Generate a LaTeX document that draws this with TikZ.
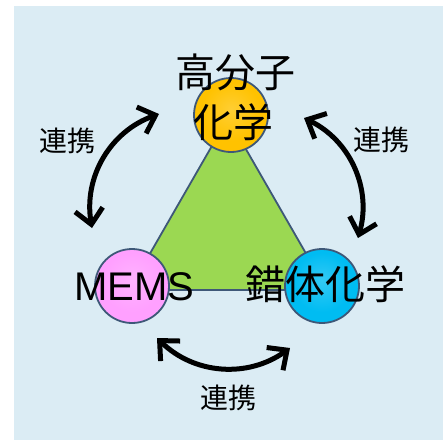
\documentclass[tikz,border=0pt]{standalone}
\usepackage{fontspec}
\setmainfont{Liberation Sans}
\newfontfamily\cjk{Noto Sans CJK JP}
\usetikzlibrary{arrows.meta}
\definecolor{bgc}{RGB}{219,236,244}
\definecolor{trifill}{RGB}{155,216,82}
\definecolor{edgec}{RGB}{62,88,120}
\definecolor{orc}{RGB}{255,194,0}
\definecolor{pkc}{RGB}{255,160,255}
\definecolor{blc}{RGB}{0,188,242}
\pgfdeclareradialshading{bevorange}{\pgfpoint{0bp}{4bp}}{color(0bp)=(orc!80!white); color(20bp)=(orc); color(40bp)=(orc); color(50bp)=(orc!72!black)}
\pgfdeclareradialshading{bevpink}{\pgfpoint{0bp}{4bp}}{color(0bp)=(pkc!80!white); color(20bp)=(pkc); color(40bp)=(pkc); color(50bp)=(pkc!72!black)}
\pgfdeclareradialshading{bevblue}{\pgfpoint{0bp}{4bp}}{color(0bp)=(blc!80!white); color(20bp)=(blc); color(40bp)=(blc); color(50bp)=(blc!72!black)}
\tikzset{
  tri/.style={fill=trifill, draw=edgec, line width=1.8pt, line join=round},
  ball/.style={circle, minimum size=74pt, inner sep=0pt, draw=edgec, line width=1.8pt},
  bigcjk/.style={font=\cjk\fontsize{40}{48}\selectfont, inner sep=0pt, anchor=base},
  biglat/.style={font=\fontsize{40}{48}\selectfont, inner sep=0pt, anchor=base},
  small/.style={font=\cjk\fontsize{28}{34}\selectfont, inner sep=0pt, anchor=base},
  link/.style={line width=5pt, arrows={Straight Barb[length=15pt,width=28pt]-Straight Barb[length=15pt,width=28pt]}}
}
\begin{document}
\begin{tikzpicture}[x=1pt,y=1pt]
\useasboundingbox (0,0) rectangle (443,440);
\fill[bgc] (14,0) rectangle (443,434);
% triangle
\coordinate (apex) at (228,322);
\coordinate (bl) at (129,150);
\coordinate (br) at (327,150);
\draw[tri] (apex) -- (bl) -- (br) -- cycle;
% balls
\node[ball, shading=bevorange] (topball) at (231,325) {};
\node[ball, shading=bevpink] (leftball) at (132,154) {};
\node[ball, shading=bevblue] (rightball) at (322,154) {};
% labels
\node[bigcjk] (kb1) at (235,353) {高分子};
\node[bigcjk] (kb2) at (233,303) {化学};
\node[biglat] (mems) at (134,140) {MEMS};
\node[bigcjk] (sakutai) at (325,141) {錯体化学};
% arrows
\coordinate (L1) at (159,326);
\coordinate (L2) at (92,212);
\coordinate (R1) at (304,322);
\coordinate (R2) at (358,202);
\coordinate (B1) at (157,102);
\coordinate (B2) at (290,92);
\draw[link] (L1) to[bend right=40] (L2);
\draw[link] (R1) to[bend left=40] (R2);
\draw[link] (B1) to[bend right=40] (B2);
\node[small] (renL) at (67,289) {連携};
\node[small] (renR) at (381,290) {連携};
\node[small] (renB) at (228,32) {連携};
\end{tikzpicture}
\end{document}
